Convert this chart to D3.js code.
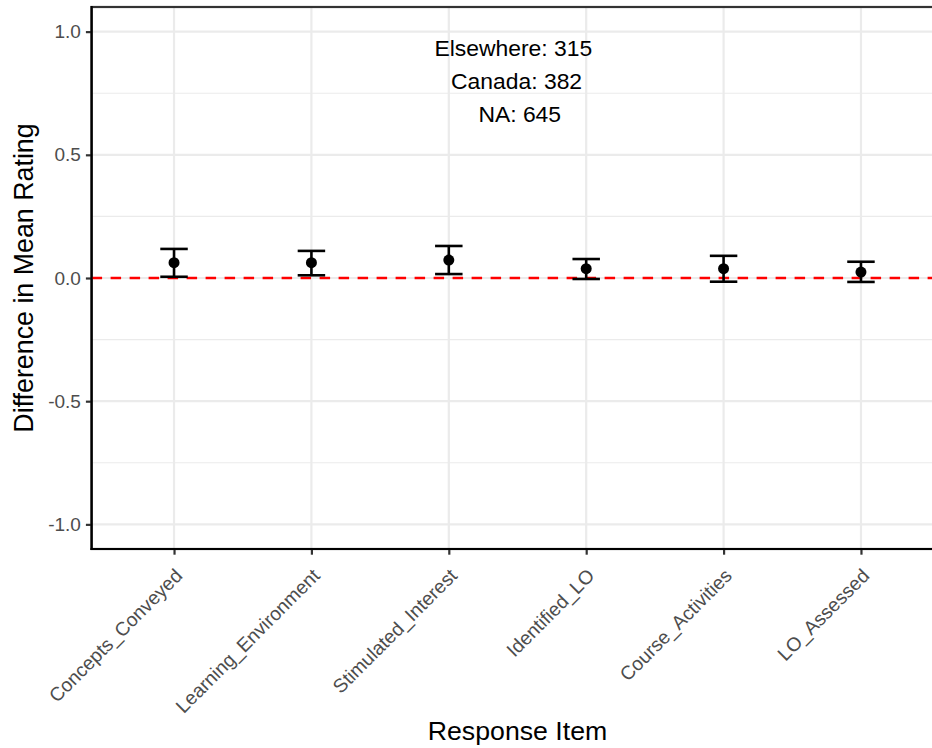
<!DOCTYPE html>
<html>
<head>
<meta charset="utf-8">
<script src="https://cdn.jsdelivr.net/npm/d3@7"></script>
<style>
  html, body { margin: 0; padding: 0; background: #fff; }
  svg { display: block; font-family: "Liberation Sans", Arial, sans-serif; }
</style>
</head>
<body>
<svg id="chart" width="932" height="748"></svg>
<script>
// ---- data ----
const categories = ["Concepts_Conveyed", "Learning_Environment", "Stimulated_Interest",
                    "Identified_LO", "Course_Activities", "LO_Assessed"];
const meanDiff = [0.062, 0.062, 0.073, 0.038, 0.038, 0.024];
const lowerCI  = [0.005, 0.011, 0.016, -0.004, -0.015, -0.016];
const upperCI  = [0.118, 0.110, 0.130, 0.077, 0.090, 0.066];
const yTicks = [-1.0, -0.5, 0.0, 0.5, 1.0];
const yMinorTicks = [-0.75, -0.25, 0.25, 0.75];
const annotationLines = ["Elsewhere: 315", " Canada: 382", "  NA: 645"];
const xTitle = "Response Item";
const yTitle = "Difference in Mean Rating";

// ---- layout ----
const svg = d3.select("#chart");
const panel = { left: 91.6, right: 943.4, top: 7, bottom: 549 };
const x = d3.scalePoint().domain(categories).range([panel.left, panel.right]).padding(0.6);
const y = d3.scaleLinear().domain([-1.1, 1.1]).range([panel.bottom, panel.top]);
const step = x.step();
const fmt = v => d3.format(".1f")(v).replace("\u2212", "-");

svg.append("rect").attr("width", 932).attr("height", 748).attr("fill", "#fff");

const grid = svg.append("g");
grid.selectAll("line.minor").data(yMinorTicks).join("line")
  .attr("x1", panel.left).attr("x2", panel.right)
  .attr("y1", d => y(d)).attr("y2", d => y(d))
  .attr("stroke", "#EBEBEB").attr("stroke-width", 1.1);
grid.selectAll("line.major").data(yTicks).join("line")
  .attr("x1", panel.left).attr("x2", panel.right)
  .attr("y1", d => y(d)).attr("y2", d => y(d))
  .attr("stroke", "#EBEBEB").attr("stroke-width", 2.2);
grid.selectAll("line.vmajor").data(categories).join("line")
  .attr("x1", d => x(d)).attr("x2", d => x(d))
  .attr("y1", panel.top).attr("y2", panel.bottom)
  .attr("stroke", "#EBEBEB").attr("stroke-width", 2.2);

// panel border (theme_bw)
svg.append("rect")
  .attr("x", panel.left).attr("y", panel.top)
  .attr("width", panel.right - panel.left).attr("height", panel.bottom - panel.top)
  .attr("fill", "none").attr("stroke", "#333333").attr("stroke-width", 2.2);

// reference line at 0
svg.append("line")
  .attr("x1", panel.left).attr("x2", panel.right)
  .attr("y1", y(0)).attr("y2", y(0))
  .attr("stroke", "#FF0000").attr("stroke-width", 2.6)
  .attr("stroke-dasharray", "10.5,8.5");

// error bars
const rows = categories.map((c, i) => ({ c, m: meanDiff[i], lo: lowerCI[i], hi: upperCI[i] }));
const capHalf = step * 0.1;
const eb = svg.append("g").attr("stroke", "#000").attr("stroke-width", 2.6);
eb.selectAll("line.v").data(rows).join("line")
  .attr("x1", d => x(d.c)).attr("x2", d => x(d.c))
  .attr("y1", d => y(d.lo)).attr("y2", d => y(d.hi));
eb.selectAll("line.top").data(rows).join("line")
  .attr("x1", d => x(d.c) - capHalf).attr("x2", d => x(d.c) + capHalf)
  .attr("y1", d => y(d.hi)).attr("y2", d => y(d.hi));
eb.selectAll("line.bot").data(rows).join("line")
  .attr("x1", d => x(d.c) - capHalf).attr("x2", d => x(d.c) + capHalf)
  .attr("y1", d => y(d.lo)).attr("y2", d => y(d.lo));

svg.append("g").selectAll("circle").data(rows).join("circle")
  .attr("cx", d => x(d.c)).attr("cy", d => y(d.m)).attr("r", 5.5)
  .attr("fill", "#000");

// annotation
const annX = x(categories[2]) + step * 0.47;
svg.append("text")
  .attr("text-anchor", "middle")
  .attr("font-size", 22.9).attr("fill", "#000")
  .attr("xml:space", "preserve").style("white-space", "pre")
  .selectAll("tspan").data(annotationLines).join("tspan")
  .attr("x", annX)
  .attr("y", (d, i) => y(0.8) + 8 + (i - 1) * 32.8)
  .text(d => d);

// axes
const yAxis = svg.append("g")
  .attr("transform", `translate(${panel.left},0)`)
  .call(d3.axisLeft(y).tickValues(yTicks).tickFormat(fmt).tickSize(5.7).tickPadding(5));
yAxis.select(".domain").remove();
yAxis.selectAll(".tick line").attr("stroke", "#333333").attr("stroke-width", 2.2);
yAxis.selectAll(".tick text").attr("fill", "#4D4D4D").attr("font-size", 19)
  .attr("font-family", "Liberation Sans, Arial, sans-serif");

const xAxis = svg.append("g")
  .attr("transform", `translate(0,${panel.bottom})`)
  .call(d3.axisBottom(x).tickSize(5.7).tickPadding(5));
xAxis.select(".domain").remove();
xAxis.selectAll(".tick line").attr("stroke", "#333333").attr("stroke-width", 2.2);
xAxis.selectAll(".tick text")
  .attr("fill", "#4D4D4D").attr("font-size", 19.3)
  .attr("font-family", "Liberation Sans, Arial, sans-serif")
  .attr("text-anchor", "end").attr("dy", null).attr("y", null)
  .attr("transform", "translate(9,28) rotate(-45)");

// axis lines (black)
svg.append("line").attr("x1", panel.left).attr("x2", panel.left)
  .attr("y1", panel.top - 1.1).attr("y2", panel.bottom + 1.1)
  .attr("stroke", "#000").attr("stroke-width", 2.2);
svg.append("line").attr("x1", panel.left - 1.1).attr("x2", panel.right)
  .attr("y1", panel.bottom).attr("y2", panel.bottom)
  .attr("stroke", "#000").attr("stroke-width", 2.2);

// titles
svg.append("text").attr("x", (panel.left + panel.right) / 2).attr("y", 740)
  .attr("text-anchor", "middle").attr("font-size", 26.7).attr("fill", "#000").text(xTitle);
svg.append("text").attr("transform", `translate(33,${(panel.top + panel.bottom) / 2}) rotate(-90)`)
  .attr("text-anchor", "middle").attr("font-size", 26.8).attr("fill", "#000").text(yTitle);
</script>
</body>
</html>
